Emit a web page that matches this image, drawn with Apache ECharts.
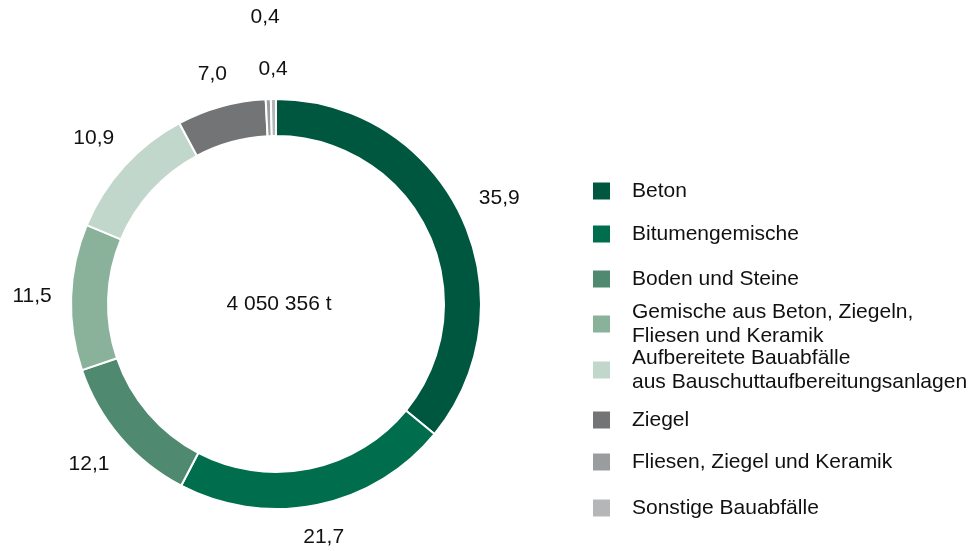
<!DOCTYPE html>
<html lang="de">
<head>
<meta charset="utf-8">
<title>Bauabfälle</title>
<script src="https://cdn.jsdelivr.net/npm/echarts@6/dist/echarts.min.js"></script>
<style>
  html, body { margin: 0; padding: 0; background: #fff; }
  #chart { width: 975px; height: 551px; }
</style>
</head>
<body>
<div id="chart"></div>
<script>
// Kategorien und Anteile in %
var categories = [
    'Beton',
    'Bitumengemische',
    'Boden und Steine',
    'Gemische aus Beton, Ziegeln,\nFliesen und Keramik',
    'Aufbereitete Bauabfälle\naus Bauschuttaufbereitungsanlagen',
    'Ziegel',
    'Fliesen, Ziegel und Keramik',
    'Sonstige Bauabfälle'
];
var shares = [35.9, 21.7, 12.1, 11.5, 10.9, 7.0, 0.4, 0.4];
var colors = ['#00573f', '#006e4d', '#4f8a70', '#8ab29b', '#c2d7cb', '#737476', '#9b9c9e', '#b5b6b8'];
var totalLabel = '4 050 356 t';

// Layout (keine Daten)
var FONT = 'Liberation Sans, Arial, sans-serif';
var CX = 276, CY = 304, R_IN = 168, R_OUT = 205;
var labelGap = 19;
var labelPush = [0, 0, 0, 0, 0, 0, 52, 0];   // eine 0,4 weiter nach außen
var legendCenters = [191, 234, 279, 324, 370, 420, 462, 508];

var sum = shares.reduce(function (a, b) { return a + b; }, 0);
var midAngles = [];
(function () {
    var acc = 0;
    shares.forEach(function (v) {
        midAngles.push((acc + v / 2) / sum * 2 * Math.PI);
        acc += v;
    });
})();

var chart = echarts.init(document.getElementById('chart'));

// Legende: eine pro Eintrag, damit die Abstände gleich bleiben
var legends = categories.map(function (name, i) {
    var lines = name.split('\n').length;
    return {
        data: [name],
        orient: 'vertical',
        left: 591,
        top: legendCenters[i] - lines * 12,
        padding: 0,
        itemWidth: 19,
        itemHeight: 19,
        icon: 'rect',
        selectedMode: false,
        textStyle: {
            fontFamily: FONT,
            fontSize: 21,
            lineHeight: 24,
            color: '#111',
            padding: [0, 0, 0, 16]
        }
    };
});

chart.setOption({
    animation: false,
    color: colors,
    legend: legends,
    graphic: [{
        type: 'text',
        x: CX + 3,
        y: CY,
        style: {
            text: totalLabel,
            font: '21px ' + FONT,
            fill: '#111',
            align: 'center',
            verticalAlign: 'middle'
        }
    }],
    series: [{
        type: 'pie',
        center: [CX, CY],
        radius: [R_IN, R_OUT],
        startAngle: 90,
        clockwise: true,
        avoidLabelOverlap: false,
        itemStyle: {
            borderColor: '#fff',
            borderWidth: 2
        },
        label: {
            show: true,
            position: 'outside',
            fontFamily: FONT,
            fontSize: 21,
            color: '#111',
            formatter: function (p) {
                return p.value.toFixed(1).replace('.', ',');
            }
        },
        labelLine: { show: false },
        labelLayout: function (p) {
            var a = midAngles[p.dataIndex];
            var sx = Math.sin(a), sy = -Math.cos(a);
            var w = p.labelRect.width, h = p.labelRect.height;
            var ext = w / 2 * Math.abs(sx) + h / 2 * Math.abs(sy);
            var d = R_OUT + labelGap + ext + labelPush[p.dataIndex];
            return {
                x: CX + sx * d,
                y: CY + sy * d,
                align: 'center',
                verticalAlign: 'middle'
            };
        },
        emphasis: { disabled: true },
        data: categories.map(function (name, i) {
            return { name: name, value: shares[i] };
        })
    }]
});
</script>
</body>
</html>
